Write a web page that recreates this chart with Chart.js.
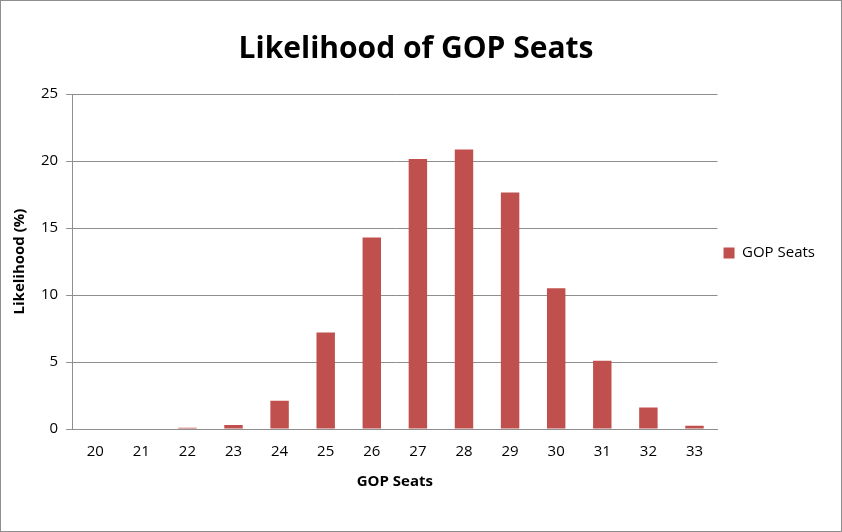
<!DOCTYPE html>
<html>
<head>
<meta charset="utf-8">
<script src="https://cdn.jsdelivr.net/npm/chart.js@4"></script>
<style>
  html, body { margin: 0; padding: 0; background: #fff; }
  #wrap { position: absolute; left: 0; top: 0; width: 840px; height: 530px; border: 1px solid #8e8e8e; }
</style>
</head>
<body>
<div id="wrap"><canvas id="chart" width="840" height="530"></canvas></div>
<script>
const seats = ['20', '21', '22', '23', '24', '25', '26', '27', '28', '29', '30', '31', '32', '33'];
const likelihood = [0, 0, 0.1, 0.3, 2.1, 7.2, 14.3, 20.15, 20.85, 17.65, 10.5, 5.1, 1.6, 0.25];
const yTicks = [0, 5, 10, 15, 20, 25];

Chart.defaults.font.family = "'Open Sans', 'DejaVu Sans', sans-serif";
Chart.defaults.color = '#000';

new Chart(document.getElementById('chart').getContext('2d'), {
    type: 'bar',
    data: {
        labels: seats,
        datasets: [{
            label: 'GOP Seats',
            data: likelihood,
            backgroundColor: '#c0504d',
            barPercentage: 0.4,
            categoryPercentage: 1.0
        }]
    },
    options: {
        responsive: false,
        animation: false,
        layout: { padding: { left: 6, right: 16, top: 10, bottom: 36 } },
        plugins: {
            title: {
                display: true,
                text: 'Likelihood of GOP Seats',
                font: { size: 30, weight: 'bold' },
                padding: { top: 20, bottom: 27 }
            },
            legend: {
                position: 'right',
                labels: { boxWidth: 11, boxHeight: 11, font: { size: 15 }, padding: 6 }
            },
            tooltip: { enabled: false }
        },
        scales: {
            x: {
                grid: { display: false },
                border: { color: '#8e8e8e' },
                ticks: { font: { size: 15 }, padding: 6 },
                title: { display: true, text: 'GOP Seats', font: { size: 15, weight: 'bold' }, padding: { top: 6 } }
            },
            y: {
                min: 0, max: 25,
                afterBuildTicks: axis => { axis.ticks = yTicks.map(v => ({ value: v })); },
                grid: { color: '#8e8e8e', drawTicks: true, tickLength: 6 },
                border: { color: '#8e8e8e' },
                ticks: { font: { size: 15 }, padding: 8 },
                title: { display: true, text: 'Likelihood (%)', font: { size: 15, weight: 'bold' } }
            }
        }
    }
});
</script>
</body>
</html>
